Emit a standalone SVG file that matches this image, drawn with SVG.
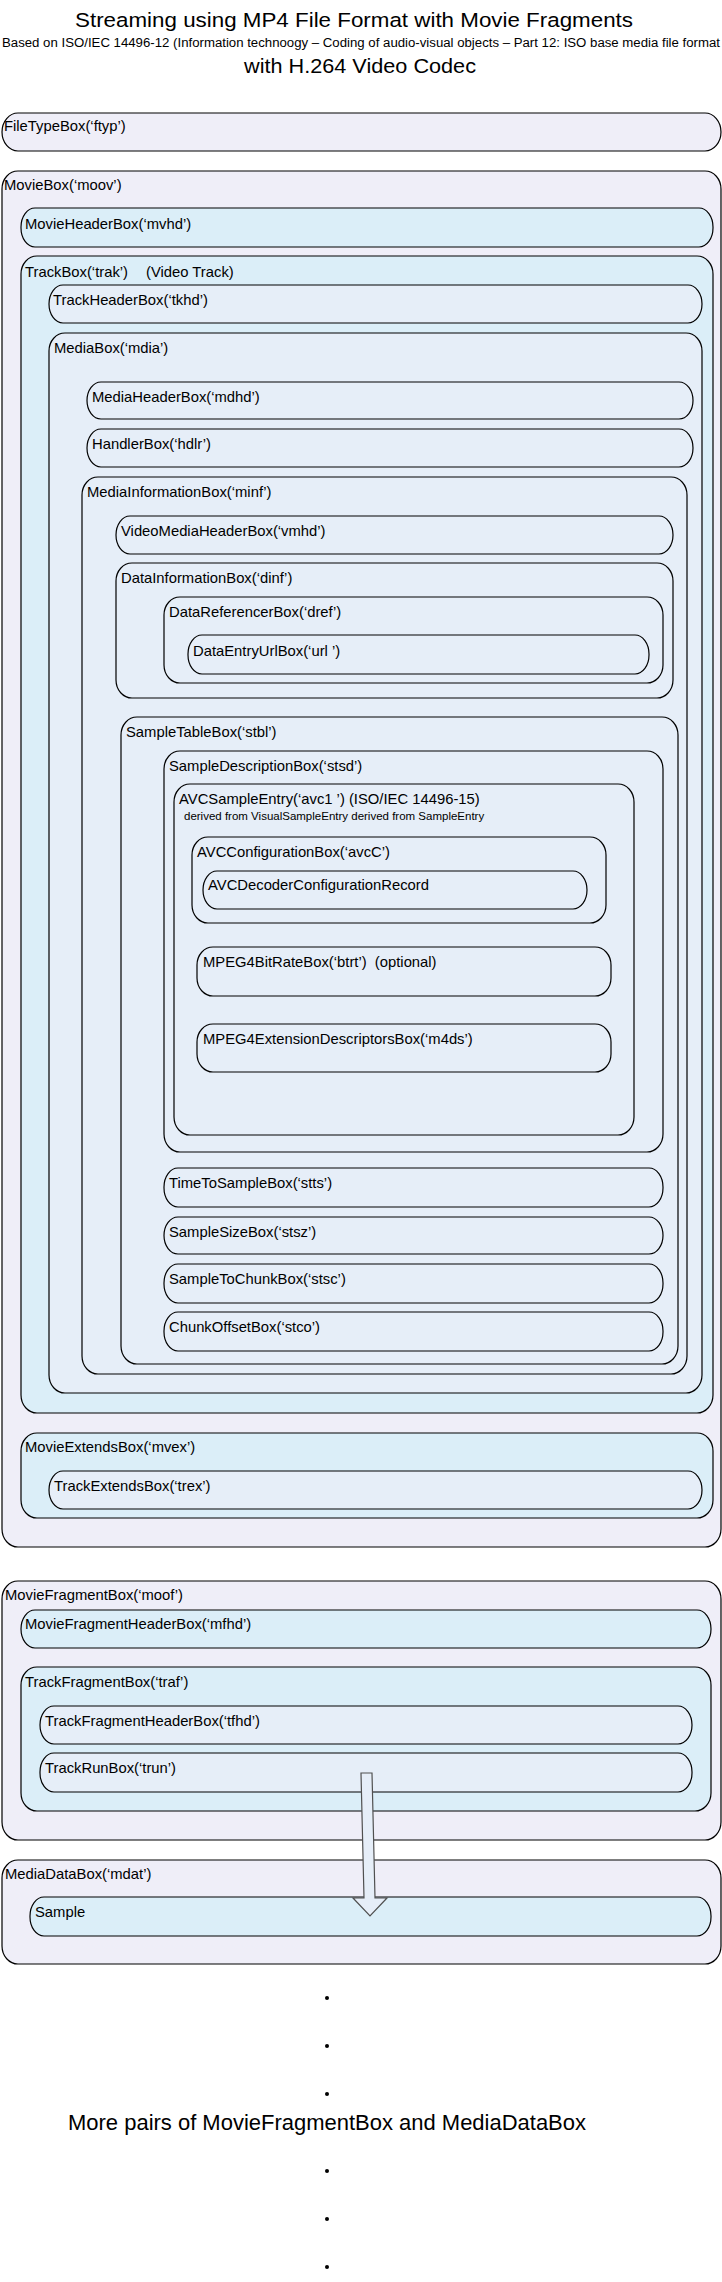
<svg xmlns="http://www.w3.org/2000/svg" width="722" height="2282" viewBox="0 0 722 2282">
<style>
  rect { stroke: #000; stroke-width: 1.2; }
  rect.bg { fill: #fff; stroke: none; }
  .outer { fill: #EFEEF8; }
  .blue { fill: #DBEEF8; }
  .inner { fill: #E6EEF8; }
  text { font-family: "Liberation Sans", Arial, sans-serif; fill: #000; }
  .lbl { font-size: 14.8px; }
  .small { font-size: 11.5px; }
  .title { font-size: 20.5px; }
  .sub { font-size: 12.5px; }
  .h2 { font-size: 21px; }
  .more { font-size: 22px; }
  .arrow { fill: #E6EEF8; stroke: #505050; stroke-width: 1.2; }
  .dot { fill: #000; }
</style>
<rect class="bg" x="0" y="0" width="722" height="2282"/>
<g id="titles">
  <text class="title" x="75" y="27" textLength="558" lengthAdjust="spacingAndGlyphs">Streaming using MP4 File Format with Movie Fragments</text>
  <text class="sub" x="2" y="47" textLength="718" lengthAdjust="spacingAndGlyphs">Based on ISO/IEC 14496-12 (Information technoogy – Coding of audio-visual objects – Part 12: ISO base media file format</text>
  <text class="h2" x="244" y="73" textLength="232" lengthAdjust="spacingAndGlyphs">with H.264 Video Codec</text>
</g>
<g id="ftyp"><rect class="outer" x="2" y="113" width="719" height="38" rx="16" ry="19"/><text class="lbl" x="4" y="131">FileTypeBox(‘ftyp’)</text></g>
<g id="moov"><rect class="outer" x="2" y="171" width="719" height="1376" rx="16" ry="18"/><text class="lbl" x="4" y="190">MovieBox(‘moov’)</text></g>
<g id="mvhd"><rect class="blue" x="21" y="208" width="692" height="39" rx="14" ry="19"/><text class="lbl" x="25" y="229">MovieHeaderBox(‘mvhd’)</text></g>
<g id="trak"><rect class="blue" x="21" y="256" width="692" height="1157" rx="16" ry="18"/><text class="lbl" x="25" y="277">TrackBox(‘trak’)<tspan x="146">(Video Track)</tspan></text></g>
<g id="tkhd"><rect class="inner" x="49" y="285" width="653" height="38" rx="14" ry="19"/><text class="lbl" x="53" y="305">TrackHeaderBox(‘tkhd’)</text></g>
<g id="mdia"><rect class="inner" x="49" y="333" width="653" height="1060" rx="16" ry="18"/><text class="lbl" x="54" y="353">MediaBox(‘mdia’)</text></g>
<g id="mdhd"><rect class="inner" x="87" y="382" width="606" height="37" rx="14" ry="19"/><text class="lbl" x="92" y="402">MediaHeaderBox(‘mdhd’)</text></g>
<g id="hdlr"><rect class="inner" x="87" y="429" width="606" height="38" rx="14" ry="19"/><text class="lbl" x="92" y="449">HandlerBox(‘hdlr’)</text></g>
<g id="minf"><rect class="inner" x="82" y="477" width="605" height="897" rx="16" ry="18"/><text class="lbl" x="87" y="497">MediaInformationBox(‘minf’)</text></g>
<g id="vmhd"><rect class="inner" x="116" y="516" width="557" height="38" rx="14" ry="19"/><text class="lbl" x="121" y="536">VideoMediaHeaderBox(‘vmhd’)</text></g>
<g id="dinf"><rect class="inner" x="116" y="563" width="557" height="135" rx="16" ry="18"/><text class="lbl" x="121" y="583">DataInformationBox(‘dinf’)</text></g>
<g id="dref"><rect class="inner" x="164" y="597" width="499" height="86" rx="16" ry="18"/><text class="lbl" x="169" y="617">DataReferencerBox(‘dref’)</text></g>
<g id="url"><rect class="inner" x="188" y="635" width="461" height="39" rx="14" ry="19"/><text class="lbl" x="193" y="656">DataEntryUrlBox(‘url ’)</text></g>
<g id="stbl"><rect class="inner" x="121" y="717" width="557" height="647" rx="16" ry="18"/><text class="lbl" x="126" y="737">SampleTableBox(‘stbl’)</text></g>
<g id="stsd"><rect class="inner" x="164" y="751" width="499" height="401" rx="16" ry="18"/><text class="lbl" x="169" y="771">SampleDescriptionBox(‘stsd’)</text></g>
<g id="avc1"><rect class="inner" x="174" y="784" width="460" height="351" rx="16" ry="18"/><text class="lbl" x="179" y="804">AVCSampleEntry(‘avc1 ’) (ISO/IEC 14496-15)</text><text class="small" x="184" y="820">derived from VisualSampleEntry derived from SampleEntry</text></g>
<g id="avcC"><rect class="inner" x="192" y="837" width="414" height="86" rx="16" ry="18"/><text class="lbl" x="197" y="857">AVCConfigurationBox(‘avcC’)</text></g>
<g id="avcDCR"><rect class="inner" x="203" y="871" width="384" height="38" rx="14" ry="19"/><text class="lbl" x="208" y="890">AVCDecoderConfigurationRecord</text></g>
<g id="btrt"><rect class="inner" x="197" y="947" width="414" height="49" rx="16" ry="18"/><text class="lbl" x="203" y="967" xml:space="preserve">MPEG4BitRateBox(‘btrt’)  (optional)</text></g>
<g id="m4ds"><rect class="inner" x="197" y="1024" width="414" height="48" rx="16" ry="18"/><text class="lbl" x="203" y="1044">MPEG4ExtensionDescriptorsBox(‘m4ds’)</text></g>
<g id="stts"><rect class="inner" x="164" y="1168" width="499" height="39" rx="14" ry="19"/><text class="lbl" x="169" y="1188">TimeToSampleBox(‘stts’)</text></g>
<g id="stsz"><rect class="inner" x="164" y="1217" width="499" height="37" rx="14" ry="19"/><text class="lbl" x="169" y="1237">SampleSizeBox(‘stsz’)</text></g>
<g id="stsc"><rect class="inner" x="164" y="1264" width="499" height="39" rx="14" ry="19"/><text class="lbl" x="169" y="1284">SampleToChunkBox(‘stsc’)</text></g>
<g id="stco"><rect class="inner" x="164" y="1312" width="499" height="39" rx="14" ry="19"/><text class="lbl" x="169" y="1332">ChunkOffsetBox(‘stco’)</text></g>
<g id="mvex"><rect class="blue" x="21" y="1433" width="692" height="85" rx="16" ry="18"/><text class="lbl" x="25" y="1452">MovieExtendsBox(‘mvex’)</text></g>
<g id="trex"><rect class="inner" x="49" y="1471" width="653" height="38" rx="14" ry="19"/><text class="lbl" x="54" y="1491">TrackExtendsBox(‘trex’)</text></g>
<g id="moof"><rect class="outer" x="2" y="1581" width="719" height="259" rx="16" ry="18"/><text class="lbl" x="5" y="1600">MovieFragmentBox(‘moof’)</text></g>
<g id="mfhd"><rect class="blue" x="21" y="1610" width="690" height="38" rx="14" ry="19"/><text class="lbl" x="25" y="1629">MovieFragmentHeaderBox(‘mfhd’)</text></g>
<g id="traf"><rect class="blue" x="21" y="1667" width="690" height="144" rx="16" ry="18"/><text class="lbl" x="25" y="1687">TrackFragmentBox(‘traf’)</text></g>
<g id="tfhd"><rect class="inner" x="40" y="1706" width="652" height="38" rx="14" ry="19"/><text class="lbl" x="45" y="1726">TrackFragmentHeaderBox(‘tfhd’)</text></g>
<g id="trun"><rect class="inner" x="40" y="1753" width="652" height="39" rx="14" ry="19"/><text class="lbl" x="45" y="1773">TrackRunBox(‘trun’)</text></g>
<g id="mdat"><rect class="outer" x="2" y="1860" width="719" height="104" rx="16" ry="18"/><text class="lbl" x="5" y="1879">MediaDataBox(‘mdat’)</text></g>
<g id="sample"><rect class="blue" x="30" y="1897" width="681" height="39" rx="14" ry="19"/><text class="lbl" x="35" y="1917">Sample</text></g>
<g id="connectors">
  <polygon class="arrow" points="361,1773 372,1773 375,1898 387,1898 370,1916 353,1898 364,1898"/>
</g>
<g id="more">
  <circle class="dot" cx="327" cy="1998" r="2"/>
  <circle class="dot" cx="327" cy="2046" r="2"/>
  <circle class="dot" cx="327" cy="2094" r="2"/>
  <text class="more" x="68" y="2130" textLength="518" lengthAdjust="spacingAndGlyphs">More pairs of MovieFragmentBox and MediaDataBox</text>
  <circle class="dot" cx="327" cy="2171" r="2"/>
  <circle class="dot" cx="327" cy="2219" r="2"/>
  <circle class="dot" cx="327" cy="2267" r="2"/>
</g>
</svg>
